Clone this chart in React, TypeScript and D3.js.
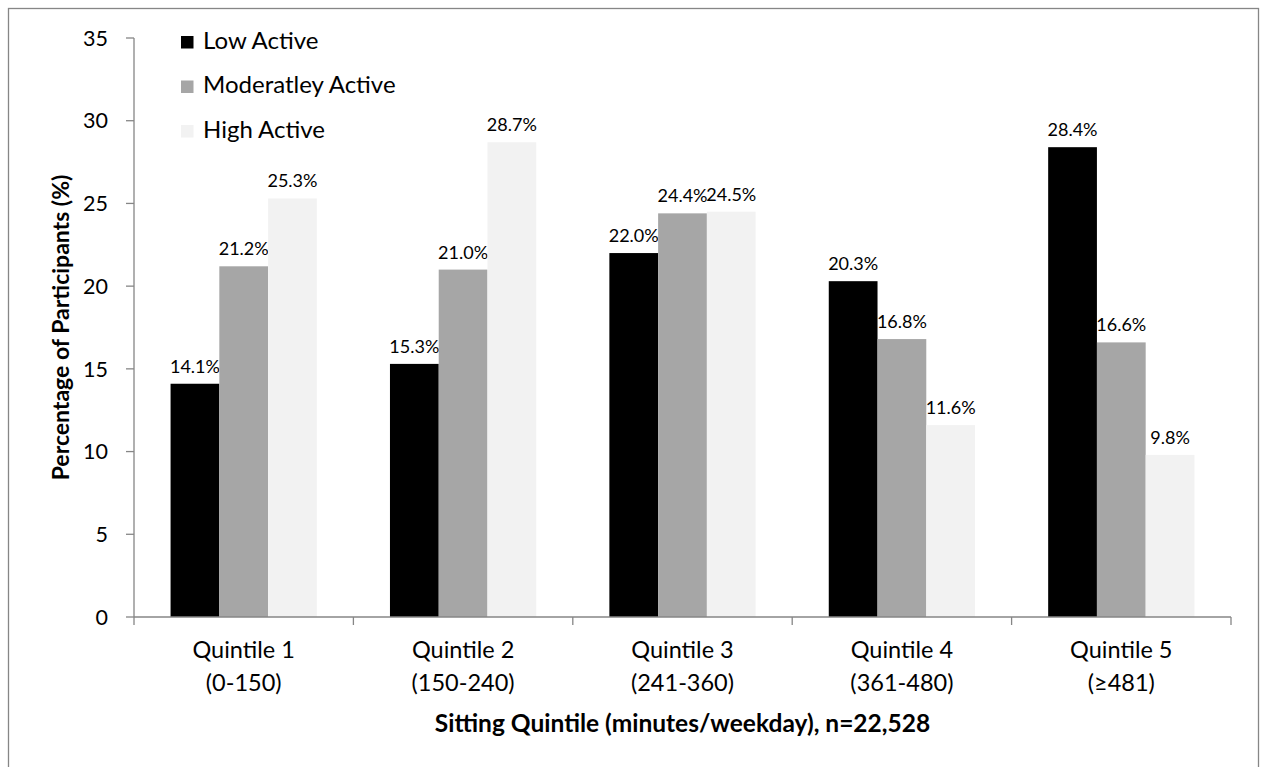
import React from 'react';
import * as d3 from 'd3';

const categories = ['Quintile 1', 'Quintile 2', 'Quintile 3', 'Quintile 4', 'Quintile 5'];
const categoryRanges = ['(0-150)', '(150-240)', '(241-360)', '(361-480)', '(≥481)'];
const seriesNames = ['Low Active', 'Moderatley Active', 'High Active'];
const lowActive = [14.1, 15.3, 22.0, 20.3, 28.4];
const moderatelyActive = [21.2, 21.0, 24.4, 16.8, 16.6];
const highActive = [25.3, 28.7, 24.5, 11.6, 9.8];
const yTicks = [0, 5, 10, 15, 20, 25, 30, 35];

const seriesValues = [lowActive, moderatelyActive, highActive];
const colors = ['#000000', '#a6a6a6', '#f2f2f2'];
const axisColor = '#868686';
const font = 'Lato, "Open Sans", sans-serif';

const width = 1262;
const height = 767;
const plot = { left: 134, right: 1231, top: 38, bottom: 617 };

const App = () => {
  const x = d3.scaleBand<string>()
    .domain(categories)
    .range([plot.left, plot.right])
    .paddingInner(0)
    .paddingOuter(0);

  const bw = x.bandwidth();
  const xSub = d3.scaleBand<string>()
    .domain(seriesNames)
    .range([bw / 6, bw * 5 / 6]);

  const y = d3.scaleLinear()
    .domain([0, 35])
    .range([plot.bottom, plot.top]);

  // boundaries between categories get the x tick marks
  const boundaries = categories.map(c => x(c) as number).concat([plot.right]);

  return (
    <div style={{ position: 'absolute', left: 0, top: 0 }}>
      <svg width={width} height={height} style={{ display: 'block', fontFamily: font }}>
        <rect x={0} y={0} width={width} height={height} fill="#ffffff" />
        <rect x={8.5} y={8.5} width={1250} height={820} fill="none" stroke={axisColor} strokeWidth={1.3} />

        {/* bars */}
        {seriesNames.map((s, si) => (
          <g key={s}>
            {categories.map((c, ci) => {
              const v = seriesValues[si][ci];
              const bx = (x(c) as number) + (xSub(s) as number);
              return (
                <g key={c}>
                  <rect
                    x={bx}
                    y={y(v)}
                    width={xSub.bandwidth()}
                    height={y(0) - y(v)}
                    fill={colors[si]}
                  />
                  <text
                    x={bx + xSub.bandwidth() / 2}
                    y={y(v) - 11}
                    textAnchor="middle"
                    fontSize={18}
                    fill="#000"
                  >
                    {v.toFixed(1) + '%'}
                  </text>
                </g>
              );
            })}
          </g>
        ))}

        {/* y axis */}
        <line x1={plot.left} x2={plot.left} y1={plot.top} y2={plot.bottom} stroke={axisColor} strokeWidth={1.3} />
        {yTicks.map(t => (
          <g key={t}>
            <line x1={plot.left - 8} x2={plot.left} y1={y(t)} y2={y(t)} stroke={axisColor} strokeWidth={1.3} />
            <text x={108} y={y(t)} dy="0.36em" textAnchor="end" fontSize={21.5} fill="#000">{t}</text>
          </g>
        ))}
        <text
          transform={`translate(69, ${(plot.top + plot.bottom) / 2}) rotate(-90)`}
          textAnchor="middle"
          fontSize={23}
          fontWeight="bold"
          fill="#000"
        >
          Percentage of Participants (%)
        </text>

        {/* x axis */}
        <line x1={plot.left} x2={plot.right} y1={plot.bottom} y2={plot.bottom} stroke={axisColor} strokeWidth={1.3} />
        {boundaries.map((b, i) => (
          <line key={i} x1={b} x2={b} y1={plot.bottom} y2={plot.bottom + 8} stroke={axisColor} strokeWidth={1.3} />
        ))}
        {categories.map((c, i) => (
          <g key={c}>
            <text x={(x(c) as number) + bw / 2} y={658} textAnchor="middle" fontSize={23.5} fill="#000">{c}</text>
            <text x={(x(c) as number) + bw / 2} y={691} textAnchor="middle" fontSize={23.5} fill="#000">{categoryRanges[i]}</text>
          </g>
        ))}
        <text x={(plot.left + plot.right) / 2} y={732} textAnchor="middle" fontSize={24.5} fontWeight="bold" fill="#000">
          Sitting Quintile (minutes/weekday), n=22,528
        </text>

        {/* legend */}
        {seriesNames.map((s, i) => (
          <g key={s} transform={`translate(181, ${36 + i * 44.5})`}>
            <rect x={0} y={0} width={12.5} height={12.5} fill={colors[i]} />
            <text x={22} y={12.5} fontSize={24} fill="#000">{s}</text>
          </g>
        ))}
      </svg>
    </div>
  );
};

export default App;
